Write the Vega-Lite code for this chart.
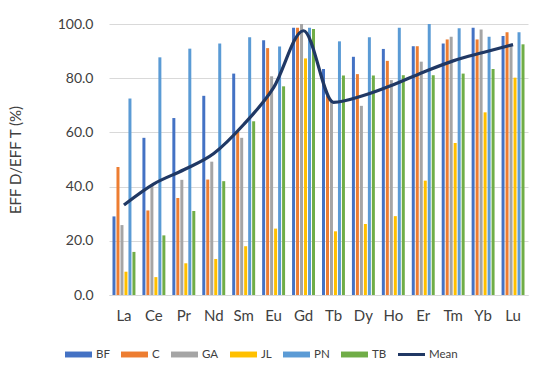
{
  "$schema": "https://vega.github.io/schema/vega-lite/v6.json",
  "width": 419,
  "height": 271,
  "autosize": {"type": "none"},
  "padding": {"left": 109, "top": 24, "right": 22, "bottom": 84},
  "background": "white",
  "config": {
    "font": "Lato",
    "view": {"stroke": null},
    "axis": {"labelColor": "#404040", "titleColor": "#404040", "labelFont": "Lato", "titleFont": "Lato"},
    "legend": {"labelFont": "Lato"}
  },
  "datasets": {
    "bars": [
      {"el": "La", "s": "BF", "v": 29}, {"el": "La", "s": "C", "v": 47.2}, {"el": "La", "s": "GA", "v": 25.8}, {"el": "La", "s": "JL", "v": 8.6}, {"el": "La", "s": "PN", "v": 72.5}, {"el": "La", "s": "TB", "v": 15.9},
      {"el": "Ce", "s": "BF", "v": 58}, {"el": "Ce", "s": "C", "v": 31.2}, {"el": "Ce", "s": "GA", "v": 40.5}, {"el": "Ce", "s": "JL", "v": 6.6}, {"el": "Ce", "s": "PN", "v": 87.7}, {"el": "Ce", "s": "TB", "v": 22}, 
      {"el": "Pr", "s": "BF", "v": 65.3}, {"el": "Pr", "s": "C", "v": 35.8}, {"el": "Pr", "s": "GA", "v": 42.5}, {"el": "Pr", "s": "JL", "v": 11.7}, {"el": "Pr", "s": "PN", "v": 90.9}, {"el": "Pr", "s": "TB", "v": 31},
      {"el": "Nd", "s": "BF", "v": 73.5}, {"el": "Nd", "s": "C", "v": 42.6}, {"el": "Nd", "s": "GA", "v": 49.2}, {"el": "Nd", "s": "JL", "v": 13.3}, {"el": "Nd", "s": "PN", "v": 92.8}, {"el": "Nd", "s": "TB", "v": 42},
      {"el": "Sm", "s": "BF", "v": 81.7}, {"el": "Sm", "s": "C", "v": 60.3}, {"el": "Sm", "s": "GA", "v": 58}, {"el": "Sm", "s": "JL", "v": 18}, {"el": "Sm", "s": "PN", "v": 95.1}, {"el": "Sm", "s": "TB", "v": 64.1},
      {"el": "Eu", "s": "BF", "v": 94}, {"el": "Eu", "s": "C", "v": 91.1}, {"el": "Eu", "s": "GA", "v": 80.7}, {"el": "Eu", "s": "JL", "v": 24.5}, {"el": "Eu", "s": "PN", "v": 91.7}, {"el": "Eu", "s": "TB", "v": 77},
      {"el": "Gd", "s": "BF", "v": 98.6}, {"el": "Gd", "s": "C", "v": 98.6}, {"el": "Gd", "s": "GA", "v": 100}, {"el": "Gd", "s": "JL", "v": 87.3}, {"el": "Gd", "s": "PN", "v": 98.6}, {"el": "Gd", "s": "TB", "v": 98.2},
      {"el": "Tb", "s": "BF", "v": 83.4}, {"el": "Tb", "s": "C", "v": 73.4}, {"el": "Tb", "s": "GA", "v": 71.8}, {"el": "Tb", "s": "JL", "v": 23.5}, {"el": "Tb", "s": "PN", "v": 93.6}, {"el": "Tb", "s": "TB", "v": 81},
      {"el": "Dy", "s": "BF", "v": 87.9}, {"el": "Dy", "s": "C", "v": 81.5}, {"el": "Dy", "s": "GA", "v": 69.8}, {"el": "Dy", "s": "JL", "v": 26.2}, {"el": "Dy", "s": "PN", "v": 95.1}, {"el": "Dy", "s": "TB", "v": 81},
      {"el": "Ho", "s": "BF", "v": 90.8}, {"el": "Ho", "s": "C", "v": 86.4}, {"el": "Ho", "s": "GA", "v": 79.3}, {"el": "Ho", "s": "JL", "v": 29.1}, {"el": "Ho", "s": "PN", "v": 98.6}, {"el": "Ho", "s": "TB", "v": 81.1},
      {"el": "Er", "s": "BF", "v": 91.8}, {"el": "Er", "s": "C", "v": 91.8}, {"el": "Er", "s": "GA", "v": 86.1}, {"el": "Er", "s": "JL", "v": 42.2}, {"el": "Er", "s": "PN", "v": 100}, {"el": "Er", "s": "TB", "v": 81.1},
      {"el": "Tm", "s": "BF", "v": 92.8}, {"el": "Tm", "s": "C", "v": 94.3}, {"el": "Tm", "s": "GA", "v": 95.3}, {"el": "Tm", "s": "JL", "v": 56.1}, {"el": "Tm", "s": "PN", "v": 98.4}, {"el": "Tm", "s": "TB", "v": 81.7},
      {"el": "Yb", "s": "BF", "v": 98.6}, {"el": "Yb", "s": "C", "v": 94.3}, {"el": "Yb", "s": "GA", "v": 98}, {"el": "Yb", "s": "JL", "v": 67.4}, {"el": "Yb", "s": "PN", "v": 95.3}, {"el": "Yb", "s": "TB", "v": 83.4},
      {"el": "Lu", "s": "BF", "v": 95.6}, {"el": "Lu", "s": "C", "v": 97}, {"el": "Lu", "s": "GA", "v": 92.4}, {"el": "Lu", "s": "JL", "v": 80.2}, {"el": "Lu", "s": "PN", "v": 97}, {"el": "Lu", "s": "TB", "v": 92.5}
    ],
    "mean": [
      {"el": "La", "m": 33.2}, {"el": "Ce", "m": 41}, {"el": "Pr", "m": 46.2}, {"el": "Nd", "m": 52.2},
      {"el": "Sm", "m": 62.9}, {"el": "Eu", "m": 76.5}, {"el": "Gd", "m": 97.5}, {"el": "Tb", "m": 71.1},
      {"el": "Dy", "m": 73.6}, {"el": "Ho", "m": 77.6}, {"el": "Er", "m": 82.2}, {"el": "Tm", "m": 86.4},
      {"el": "Yb", "m": 89.5}, {"el": "Lu", "m": 92.4}
    ]
  },
  "encoding": {
    "x": {
      "field": "el", "type": "nominal", "sort": null,
      "scale": {"domain": ["La","Ce","Pr","Nd","Sm","Eu","Gd","Tb","Dy","Ho","Er","Tm","Yb","Lu"], "paddingInner": 0.2, "paddingOuter": 0.1},
      "axis": {"title": null, "labelAngle": 0, "labelFontSize": 15, "labelPadding": 13, "ticks": false, "domainColor": "#d9d9d9", "domainWidth": 1, "grid": false}
    }
  },
  "layer": [
    {
      "data": {"name": "bars"},
      "mark": {"type": "bar"},
      "encoding": {
        "xOffset": {"field": "s", "type": "nominal", "scale": {"domain": ["BF","C","GA","JL","PN","TB"], "paddingInner": 0.25, "paddingOuter": 0.125}},
        "y": {
          "field": "v", "type": "quantitative",
          "scale": {"domain": [0, 100]},
          "axis": {"title": "EFF D/EFF T (%)", "titleFontSize": 15, "titleFontWeight": "normal", "titlePadding": 34, "values": [0,20,40,60,80,100], "format": ".1f", "labelFontSize": 14, "labelPadding": 16, "ticks": false, "domain": false, "gridColor": "#d9d9d9", "gridWidth": 1}
        },
        "color": {
          "field": "s", "type": "nominal",
          "scale": {"domain": ["BF","C","GA","JL","PN","TB","Mean"], "range": ["#4472C4","#ED7D31","#A5A5A5","#FFC000","#5B9BD5","#70AD47","#203864"]},
          "legend": {
            "title": null, "orient": "none", "direction": "horizontal", "columns": 7,
            "legendX": -44, "legendY": 317,
            "labelFontSize": 11.5, "labelColor": "#404040", "labelOffset": 4, "columnPadding": 11,
            "symbolType": "M-1,-0.22H1V0.22H-1Z", "symbolSize": 729, "symbolStrokeWidth": 0,
            "encode": {"symbols": {"update": {"shape": {"signal": "datum.value === 'Mean' ? 'M-1,-0.11H1V0.11H-1Z' : 'M-1,-0.22H1V0.22H-1Z'"}, "fill": {"scale": "color", "field": "value"}, "strokeWidth": {"value": 0}}}}
          }
        }
      }
    },
    {
      "data": {"name": "mean"},
      "mark": {"type": "line", "strokeWidth": 3.2, "interpolate": "monotone"},
      "encoding": {
        "y": {"field": "m", "type": "quantitative"},
        "color": {"datum": "Mean"}
      }
    }
  ]
}
